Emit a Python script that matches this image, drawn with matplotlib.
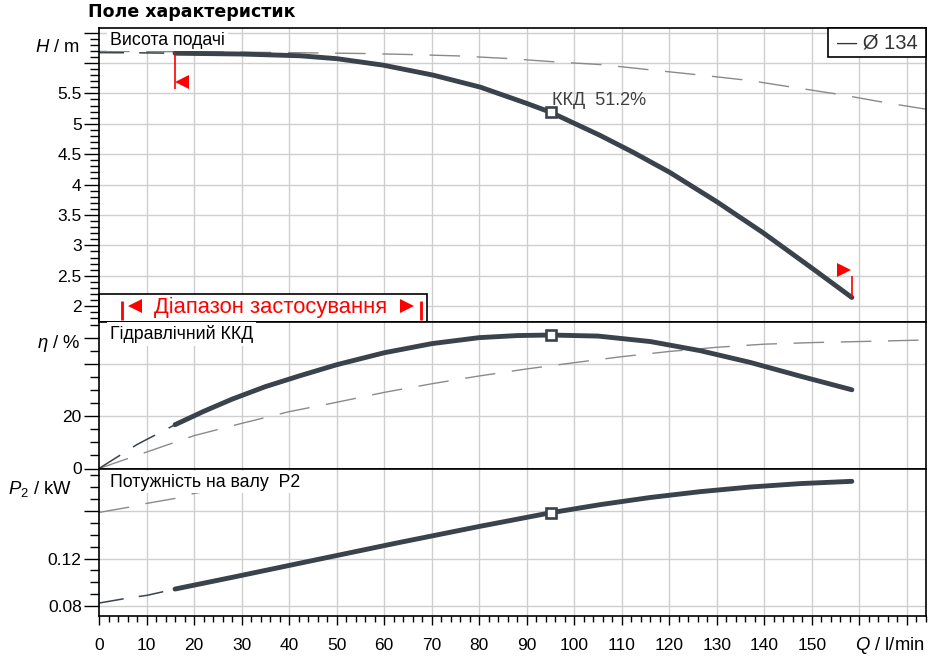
import matplotlib
matplotlib.use('Agg')
import matplotlib.pyplot as plt
from matplotlib.patches import Rectangle
from matplotlib.ticker import MultipleLocator, FixedLocator, FixedFormatter

plt.rcParams['font.family'] = ['Liberation Sans', 'DejaVu Sans']
plt.rcParams['mathtext.fontset'] = 'custom'
plt.rcParams['mathtext.rm'] = 'Liberation Sans'
plt.rcParams['mathtext.it'] = 'Liberation Sans:italic'
plt.rcParams['lines.scale_dashes'] = False

# ---------------- data ----------------
# Head curve (impeller Ø 134)
q_head = [16, 30, 42.3, 50.1, 59.8, 70.3, 80.2, 90.0, 95.0, 105.4, 112.4, 120.1, 130.0, 139.7, 150.2, 158.4]
head = [6.16, 6.147, 6.118, 6.07, 5.964, 5.80, 5.603, 5.335, 5.19, 4.81, 4.53, 4.20, 3.717, 3.209, 2.615, 2.143]
q_head_ext = [0, 8, 16]
head_ext = [6.17, 6.167, 6.16]
# Reference (dashed grey) head curve
q_head_ref = [0, 20, 40, 55.3, 65.4, 75.5, 85.8, 95.9, 105.8, 116.8, 126.7, 137, 146, 156, 166, 174]
head_ref = [6.19, 6.185, 6.17, 6.156, 6.139, 6.116, 6.074, 6.018, 5.972, 5.88, 5.80, 5.71, 5.60, 5.48, 5.34, 5.24]

# Hydraulic efficiency
q_eta = [16, 22, 28, 35, 42.3, 50, 60, 70, 80, 88, 95, 105, 116, 126.5, 137, 147.6, 158.4]
eta = [16.8, 21.9, 26.6, 31.4, 35.6, 39.8, 44.4, 47.9, 50.2, 51.0, 51.2, 50.8, 48.7, 45.2, 40.7, 35.4, 30.2]
q_eta_ext = [0, 8, 16]
eta_ext = [0, 9.2, 16.8]
q_eta_ref = [0, 10, 20, 30, 40, 50, 60, 70, 80, 90, 100, 110, 120, 130, 140, 150, 160, 174]
eta_ref = [0, 6.3, 12.6, 17.3, 21.8, 25.4, 29.2, 32.5, 35.5, 38.2, 40.6, 42.9, 44.9, 46.5, 47.7, 48.3, 48.7, 49.3]

# Shaft power P2
q_p2 = [16, 28.2, 46.5, 62.7, 80, 95, 105.5, 116, 126.5, 137, 147.6, 158.4]
p2 = [0.0943, 0.1043, 0.1196, 0.1331, 0.1470, 0.1585, 0.1654, 0.1714, 0.1763, 0.1802, 0.1831, 0.1850]
q_p2_ext = [0, 6.1, 10.1, 16]
p2_ext = [0.0825, 0.0867, 0.089, 0.0943]
q_p2_ref = [0, 6, 10, 16, 20, 26, 40]
p2_ref = [0.1588, 0.163, 0.1664, 0.1706, 0.1748, 0.179, 0.189]

# Best efficiency point
q_bep = 95
head_bep = 5.19
eta_bep = 51.2
p2_bep = 0.1585

# Application range and impeller
q_range = [4.84, 67.8]
diameter = 134

x_major = list(range(0, 180, 10))
x_labels = [str(v) for v in range(0, 160, 10)] + ['', '']
h_major = [2, 2.5, 3, 3.5, 4, 4.5, 5, 5.5, 6, 6.5]
h_labels = ['2', '2.5', '3', '3.5', '4', '4.5', '5', '5.5', '', '']
eta_major = [0, 20, 40, 50]
eta_labels = ['0', '20', '', '']
p2_major = [0.08, 0.12, 0.16]
p2_labels = ['0.08', '0.12', '']

# ---------------- style ----------------
CURVE = '#3a424b'
GREY = '#8a8a8a'
GRID = '#cfcfcf'
RED = '#ff0000'
TICK_FS = 12.5
TXT_FS = 12.8

W, H = 934, 666
fig = plt.figure(figsize=(W / 100, H / 100), dpi=100)


def fx(x):
    return x / W


def fy(y):
    return 1 - y / H


left, right = 99, 926
ax1 = fig.add_axes([fx(left), fy(322), (right - left) / W, (322 - 28.3) / H])
ax2 = fig.add_axes([fx(left), fy(468.5), (right - left) / W, (468.5 - 322) / H])
ax3 = fig.add_axes([fx(left), fy(616), (right - left) / W, (616 - 468.5) / H])

ax1.set_ylim(1.74, 6.57)
ax2.set_ylim(0, 56.2)
ax3.set_ylim(0.0716, 0.1958)

for ax in (ax1, ax2, ax3):
    ax.set_xlim(0, 174)
    for s in ax.spines.values():
        s.set_linewidth(1.2)
        s.set_color('black')
    for q in x_major[1:]:
        ax.axvline(q, color=GRID, lw=1.0, zorder=0.5)
    ax.tick_params(axis='y', which='major', length=10.5, width=1.0, labelsize=TICK_FS, pad=2)
    ax.tick_params(axis='y', which='minor', length=6.5, width=1.0)

for ax in (ax1, ax2):
    ax.tick_params(axis='x', which='both', length=0, labelbottom=False)

ax3.xaxis.set_major_locator(FixedLocator(x_major))
ax3.xaxis.set_major_formatter(FixedFormatter(x_labels))
ax3.xaxis.set_minor_locator(MultipleLocator(2))
ax3.tick_params(axis='x', which='major', length=6.5, width=1.0, labelsize=TICK_FS, pad=9.5)
ax3.tick_params(axis='x', which='minor', length=4.5, width=1.0)

ax1.yaxis.set_major_locator(FixedLocator(h_major))
ax1.yaxis.set_major_formatter(FixedFormatter(h_labels))
ax1.yaxis.set_minor_locator(MultipleLocator(0.1))
ax2.yaxis.set_major_locator(FixedLocator(eta_major))
ax2.yaxis.set_major_formatter(FixedFormatter(eta_labels))
ax2.yaxis.set_minor_locator(MultipleLocator(5))
ax3.yaxis.set_major_locator(FixedLocator(p2_major))
ax3.yaxis.set_major_formatter(FixedFormatter(p2_labels))
ax3.yaxis.set_minor_locator(MultipleLocator(0.01))

for v in h_major:
    ax1.axhline(v, color=GRID, lw=1.0, zorder=0.5)
for v in [20, 40]:
    ax2.axhline(v, color=GRID, lw=1.0, zorder=0.5)
for v in p2_major:
    ax3.axhline(v, color=GRID, lw=1.0, zorder=0.5)

# ---------------- curves ----------------
main_kw = dict(color=CURVE, lw=3.5, solid_capstyle='round', solid_joinstyle='round', zorder=3)
ext_kw = dict(color=CURVE, lw=1.1, dashes=(18, 11), zorder=2.5)
ref_kw = dict(color=GREY, lw=1.0, dashes=(22, 12), zorder=2)
mk_kw = dict(marker='s', ms=6.8, mfc='white', mec=CURVE, mew=1.9, zorder=4)

ax1.plot(q_head_ref, head_ref, **ref_kw)
ax1.plot(q_head_ext, head_ext, **ext_kw)
ax1.plot(q_head, head, **main_kw)
ax1.plot([q_bep], [head_bep], **mk_kw)
ax1.annotate(f'ККД  {eta_bep:.1f}%', (q_bep, head_bep), xytext=(1, 8.6),
             textcoords='offset points', ha='left', va='center', fontsize=13,
             color='#404040', zorder=5)

ax2.plot(q_eta_ref, eta_ref, **ref_kw)
ax2.plot(q_eta_ext, eta_ext, **ext_kw)
ax2.plot(q_eta, eta, **main_kw)
ax2.plot([q_bep], [eta_bep], **mk_kw)

ax3.plot(q_p2_ref, p2_ref, **ref_kw)
ax3.plot(q_p2_ext, p2_ext, **ext_kw)
ax3.plot(q_p2, p2, **main_kw)
ax3.plot([q_bep], [p2_bep], **mk_kw)

# ---------------- range markers ----------------
ax1.vlines(q_head[0], 5.57, head[0], color=RED, lw=1.2, zorder=3.5)
ax1.plot([q_head[0] + 1.46], [5.685], marker='<', ms=10, color=RED, mew=0, zorder=3.5)
ax1.vlines(q_head[-1], head[-1], 2.49, color=RED, lw=1.2, zorder=3.5)
ax1.plot([q_head[-1] - 1.55], [2.60], marker='>', ms=10, color=RED, mew=0, zorder=3.5)

band_top = 2.203
ax1.add_patch(Rectangle((0, 1.74), 69.0, band_top - 1.74, fc='white', ec='black',
                        lw=1.2, zorder=1.5, clip_on=False))
ax1.vlines(q_range, 1.77, 2.08, color=RED, lw=2.0, zorder=2)
ax1.plot([7.6], [2.01], marker='<', ms=10.5, color=RED, mew=0, zorder=2)
ax1.plot([64.9], [2.01], marker='>', ms=10.5, color=RED, mew=0, zorder=2)
ax1.text(36.0, 1.892, 'Діапазон застосування', color=RED, fontsize=15.8,
         ha='center', va='baseline', zorder=2)

# ---------------- panel captions ----------------
box = dict(fc='white', ec='none', pad=2.0)
ax1.text(0.0133, 0.96, 'Висота подачі', transform=ax1.transAxes, fontsize=TXT_FS,
         ha='left', va='center', bbox=box, zorder=5)
ax2.text(0.0133, 0.918, 'Гідравлічний ККД', transform=ax2.transAxes, fontsize=TXT_FS,
         ha='left', va='center', bbox=box, zorder=5)
ax3.text(0.0133, 0.908, 'Потужність на валу  P2', transform=ax3.transAxes, fontsize=TXT_FS,
         ha='left', va='center', bbox=box, zorder=5)

# legend box
ax1.add_patch(Rectangle((0.8815, 0.902), 0.1185, 0.098, transform=ax1.transAxes,
                        fc='white', ec='black', lw=1.2, zorder=6, clip_on=False))
ax1.text(0.9407, 0.951, f'— Ø {diameter}', transform=ax1.transAxes, fontsize=14.5,
         ha='center', va='center', color='#333333', zorder=7)

# axis labels
LAB_FS = 13.3
fig.text(fx(80), fy(48), r'$H$ / m', ha='right', va='center', fontsize=LAB_FS)
fig.text(fx(80), fy(343), r'$η$ / %', ha='right', va='center', fontsize=LAB_FS)
fig.text(fx(72), fy(489), r'$P_{2}$ / kW', ha='right', va='center', fontsize=LAB_FS)
fig.text(fx(925), fy(645), r'$Q$ / l/min', ha='right', va='center', fontsize=LAB_FS)

fig.text(fx(88), fy(12), 'Поле характеристик', ha='left', va='center', fontsize=12.5,
         fontweight='bold', family=['DejaVu Sans'])

fig.savefig('out.png', dpi=100)
